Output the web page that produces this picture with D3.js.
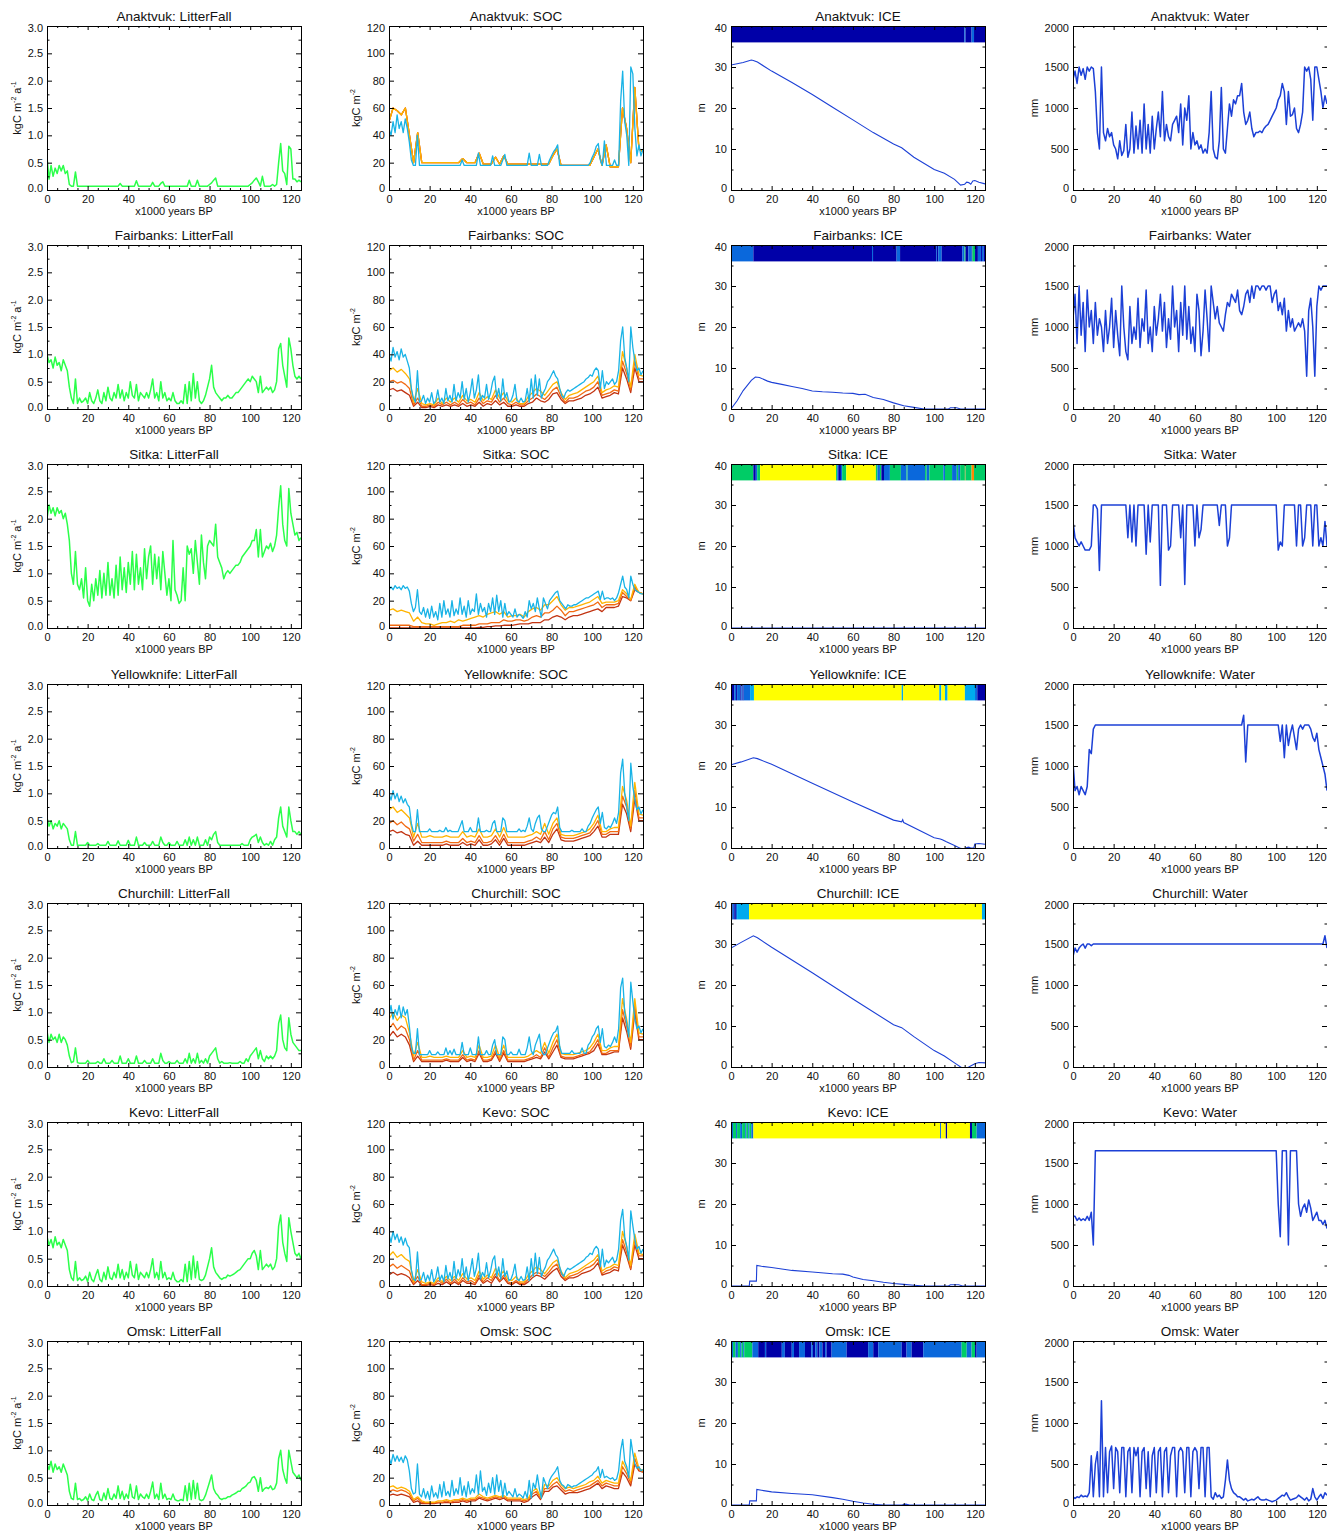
<!DOCTYPE html>
<html>
<head>
<meta charset="utf-8">
<title>Site panels: LitterFall, SOC, ICE, Water</title>
<script src="https://cdn.jsdelivr.net/npm/d3@7"></script>
<style>
  body { margin: 0; background: #fff; }
  svg { display: block; }
</style>
</head>
<body>
<script>
// ---- data (x = 0..125 kyr BP, spread evenly over each array) ----
const stations = ["Anaktvuk", "Fairbanks", "Sitka", "Yellowknife", "Churchill", "Kevo", "Omsk"];
const xTicks = [0, 20, 40, 60, 80, 100, 120];
const litterTicks = [0, 0.5, 1, 1.5, 2, 2.5, 3];
const socTicks = [0, 20, 40, 60, 80, 100, 120];
const iceTicks = [0, 10, 20, 30, 40];
const waterTicks = [0, 500, 1000, 1500, 2000];

// litterfall, kgC m-2 a-1, one value per kyr
const litterAnaktvuk = [
.6,.2,.45,.25,.4,.3,.45,.35,.45,.3,
.35,.1,.07,.07,.33,.07,.07,.07,.07,.07,
.07,.07,.07,.07,.07,.07,.07,.07,.07,.07,
.07,.07,.07,.07,.07,.07,.12,.07,.07,.07,
.07,.07,.07,.07,.17,.07,.07,.07,.07,.07,
.07,.07,.14,.07,.07,.07,.12,.15,.07,.07,
.07,.07,.07,.07,.07,.07,.07,.07,.07,.07,
.18,.07,.07,.07,.18,.07,.07,.07,.07,.07,
.1,.13,.18,.22,.07,.07,.07,.07,.07,.07,
.07,.07,.07,.07,.07,.07,.07,.07,.07,.07,
.1,.13,.18,.22,.15,.07,.25,.07,.07,.07,
.07,.1,.07,.1,.5,.85,.35,.3,.1,.8,
.75,.2,.2,.15,.18,.15];
const litterFairbanks = [
1.0,.85,.9,.75,.95,.8,.85,.7,.9,.8,
.7,.4,.2,.1,.55,.1,.2,.12,.15,.2,
.1,.3,.15,.1,.2,.35,.15,.1,.3,.15,
.4,.2,.15,.3,.2,.45,.2,.35,.15,.3,
.2,.5,.25,.2,.45,.15,.3,.25,.2,.3,
.2,.35,.55,.2,.3,.15,.5,.2,.3,.15,
.2,.15,.3,.15,.1,.1,.15,.1,.45,.1,
.5,.15,.65,.2,.5,.15,.1,.15,.25,.4,
.55,.8,.4,.3,.25,.2,.15,.2,.2,.25,
.2,.2,.25,.3,.3,.35,.4,.45,.5,.55,
.5,.6,.55,.5,.3,.6,.3,.35,.4,.35,
.4,.3,.35,.5,1.1,1.2,.8,.6,.4,1.3,
1.1,.8,.6,.55,.6,.55];
const litterSitka = [
2.0,2.25,2.1,2.2,2.05,2.2,2.1,2.15,2.0,2.1,
1.9,1.6,1.0,.8,1.4,.8,.7,.9,.55,1.1,
.5,.4,.8,.5,.9,.6,1.05,.55,1.0,.6,
1.2,.6,.9,.55,1.15,.6,1.3,.7,1.1,.65,
1.2,.8,1.4,.7,1.35,.8,1.1,.7,1.45,.9,
1.3,1.5,.8,1.35,.9,1.3,.7,1.4,1.0,.6,
.9,.5,1.6,.7,.6,.45,.5,1.1,.5,1.5,
1.35,1.45,1.0,1.6,1.2,.8,1.7,1.2,.9,1.5,
1.6,1.55,1.5,1.9,1.3,1.2,1.1,.9,1.0,1.05,
1.0,1.05,1.1,1.15,1.15,1.2,1.3,1.35,1.4,1.45,
1.5,1.6,1.6,1.8,1.3,1.8,1.3,1.4,1.5,1.45,
1.55,1.4,1.5,1.7,2.2,2.6,1.9,1.6,1.5,2.55,
2.1,1.9,1.7,1.75,1.6,1.65];
const litterYellowknife = [
.55,.4,.5,.35,.45,.4,.5,.35,.45,.4,
.35,.15,.05,.05,.3,.05,.05,.05,.05,.05,
.1,.05,.05,.05,.05,.08,.05,.05,.05,.05,
.12,.05,.05,.05,.05,.13,.05,.05,.05,.05,
.14,.05,.05,.05,.2,.05,.05,.05,.1,.05,
.05,.05,.12,.05,.05,.05,.2,.1,.05,.05,
.1,.05,.05,.05,.12,.05,.05,.05,.15,.05,
.2,.05,.15,.05,.2,.05,.05,.05,.15,.05,
.2,.15,.25,.3,.1,.05,.05,.05,.05,.05,
.05,.05,.05,.05,.05,.05,.08,.05,.05,.05,
.15,.2,.22,.25,.1,.2,.1,.05,.08,.05,
.12,.05,.15,.2,.55,.75,.4,.3,.2,.75,
.5,.3,.3,.25,.3,.25];
const litterChurchill = [
.65,.45,.6,.5,.55,.45,.6,.45,.55,.5,
.4,.2,.08,.1,.35,.08,.07,.07,.07,.07,
.12,.07,.07,.07,.07,.1,.07,.07,.15,.07,
.07,.07,.12,.07,.07,.07,.2,.07,.07,.07,
.15,.07,.07,.07,.2,.07,.07,.07,.12,.07,
.07,.07,.15,.07,.07,.07,.25,.12,.07,.07,
.1,.07,.07,.07,.12,.07,.07,.07,.15,.07,
.25,.07,.15,.07,.25,.07,.12,.07,.15,.07,
.2,.25,.3,.35,.15,.07,.1,.07,.07,.07,
.08,.07,.07,.07,.07,.1,.07,.07,.15,.1,
.2,.25,.3,.35,.15,.3,.15,.1,.2,.15,
.2,.15,.2,.3,.8,.95,.5,.35,.3,.9,
.6,.45,.4,.35,.3,.3];
const litterKevo = [
.9,.75,.85,.7,.9,.75,.8,.7,.85,.75,
.65,.3,.15,.1,.45,.1,.15,.1,.12,.18,
.08,.25,.12,.08,.2,.3,.12,.08,.25,.12,
.35,.15,.12,.25,.15,.4,.15,.3,.12,.25,
.15,.45,.2,.15,.4,.12,.25,.2,.15,.25,
.15,.3,.5,.15,.25,.12,.45,.15,.25,.12,
.15,.12,.25,.12,.08,.08,.12,.08,.4,.08,
.45,.12,.55,.15,.45,.12,.1,.12,.2,.35,
.5,.7,.35,.25,.2,.15,.12,.15,.15,.2,
.18,.2,.22,.25,.28,.3,.35,.4,.45,.5,
.5,.6,.65,.55,.3,.65,.3,.35,.4,.35,
.4,.3,.35,.5,1.1,1.3,.8,.6,.45,1.25,
1.0,.8,.6,.55,.6,.5];
const litterOmsk = [
.75,.65,.8,.6,.75,.65,.7,.6,.75,.65,
.55,.25,.12,.1,.4,.1,.12,.08,.1,.15,
.08,.2,.1,.08,.18,.25,.1,.08,.22,.1,
.3,.12,.1,.2,.12,.35,.12,.25,.1,.2,
.12,.38,.15,.12,.35,.1,.2,.15,.12,.2,
.12,.25,.42,.12,.2,.1,.4,.12,.2,.1,
.12,.1,.2,.1,.08,.08,.1,.08,.35,.08,
.4,.1,.45,.12,.4,.1,.08,.1,.18,.3,
.42,.55,.3,.22,.18,.12,.1,.12,.12,.15,
.15,.18,.2,.22,.25,.25,.3,.32,.35,.4,
.42,.5,.52,.45,.25,.5,.25,.3,.32,.3,
.35,.28,.3,.4,.85,1.0,.65,.5,.4,1.0,
.8,.6,.55,.5,.55,.45];

// SOC, kgC m-2: layer 1 (top, one value per kyr), layers 2-4 (one value per 2 kyr)
const socL1Anaktvuk = [
45,40,50,42,55,45,50,42,52,45,
35,22,18,18,40,18,18,18,18,18,
18,18,18,18,18,18,18,18,18,18,
18,18,18,18,18,18,22,18,18,18,
18,18,18,18,27,18,18,18,18,18,
18,25,18,18,18,18,22,26,18,18,
18,18,18,18,18,18,18,18,18,27,
18,18,18,18,26,18,18,18,18,22,
25,28,30,33,18,18,18,18,18,18,
18,18,18,18,18,18,18,18,18,20,
24,27,32,34,22,18,36,18,18,18,
18,22,18,18,65,87,50,40,18,90,
85,45,25,33,25,30];
const socL2Anaktvuk = [
50,60,58,55,60,40,20,42,20,20,
20,20,20,20,20,20,20,20,23,20,
20,20,27,19,19,19,24,19,25,19,
19,19,19,19,19,19,19,19,19,19,
25,30,18,18,18,18,18,18,18,18,
24,30,18,33,17,17,17,60,45,20,
75,30,28];
const socL3Anaktvuk = [
50,60,58,55,60,40,20,42,20,20,
20,20,20,20,20,20,20,20,23,20,
20,20,27,19,19,19,24,19,25,19,
19,19,19,19,19,19,19,19,19,19,
25,30,18,18,18,18,18,18,18,18,
24,30,18,33,17,17,17,60,45,20,
75,30,28];
const socL4Anaktvuk = [
50,60,58,55,60,40,20,42,20,20,
20,20,20,20,20,20,20,20,23,20,
20,20,27,19,19,19,24,19,25,19,
19,19,19,19,19,19,19,19,19,19,
25,30,18,18,18,18,18,18,18,18,
24,30,18,33,17,17,17,60,45,20,
75,30,28];

const socL1Fairbanks = [
40,35,45,38,42,36,44,38,40,35,
30,15,8,5,28,5,6,10,4,8,
5,12,4,6,14,5,8,4,15,6,
10,5,18,6,12,8,20,7,15,5,
12,22,8,14,25,6,10,8,18,7,
12,20,24,8,15,6,22,8,12,5,
6,10,18,6,5,8,5,6,15,5,
22,8,25,10,22,8,12,15,20,22,
25,28,24,22,15,10,8,12,14,13,
14,15,16,17,18,19,20,22,23,25,
24,28,30,28,15,28,15,20,18,20,
22,18,20,28,50,60,38,30,20,60,
45,35,28,30,25,28];
const socL2Fairbanks = [
28,30,27,29,26,22,5,15,4,3,
4,3,8,4,8,5,8,5,10,6,
7,5,12,6,9,7,14,8,12,6,
5,8,4,4,9,12,15,13,10,14,
18,20,12,7,10,11,12,14,16,18,
20,24,12,14,15,17,16,42,30,16,
40,25,24];
const socL3Fairbanks = [
20,21,19,20,18,15,3,8,2,2,
3,2,5,3,5,3,5,3,7,4,
5,3,8,4,6,5,10,5,8,4,
3,5,3,3,6,8,11,9,7,10,
14,16,9,5,8,8,9,11,13,14,
16,20,10,11,12,14,13,35,26,14,
35,22,22];
const socL4Fairbanks = [
14,15,13,14,12,10,2,5,1,1,
2,1,3,2,3,2,3,2,4,2,
3,2,5,2,4,3,6,3,5,2,
2,3,2,2,4,5,8,6,5,7,
11,12,7,4,6,6,7,8,10,11,
13,16,8,9,10,12,11,30,22,12,
30,20,20];

const socL1Sitka = [
28,30,28,31,29,30,28,31,29,30,
27,18,12,15,28,12,10,15,8,14,
7,16,8,12,6,18,8,20,10,14,
8,20,9,14,10,22,10,16,8,20,
10,14,12,25,10,18,12,15,8,18,
12,22,10,24,12,20,8,18,9,12,
10,8,14,8,10,9,7,12,8,20,
14,18,12,22,14,8,22,18,14,20,
22,24,26,27,20,18,16,14,17,16,
16,17,17,18,19,20,21,22,22,23,
24,25,26,27,21,27,21,22,22,21,
22,20,22,26,32,38,30,28,22,38,
32,28,27,26,25,25];
const socL2Sitka = [
13,14,12,13,12,11,5,8,4,3,
3,2,3,4,4,5,4,6,5,6,
7,8,9,8,10,11,12,10,12,8,
9,9,10,8,12,14,15,13,17,17,
20,23,17,13,15,15,16,17,18,19,
21,23,18,19,19,19,20,28,25,21,
32,26,25];
const socL3Sitka = [
2,2,2,2,2,2,1,1,1,1,
1,1,1,1,1,1,1,1,2,2,
2,2,3,3,3,4,4,4,6,5,
5,6,6,5,6,8,9,8,11,11,
13,16,13,9,12,12,13,14,15,16,
17,19,15,17,17,17,18,26,23,20,
30,26,25];
const socL4Sitka = [
0,0,0,0,0,0,0,0,0,0,
0,0,0,0,0,0,0,0,0,0,
0,0,.5,.5,1,1,1.5,1.5,2,2,
2,2.5,3,3,3,4,4,4,6,6,
8,9,8,6,8,9,9,10,11,12,
13,14,12,15,15,15,16,23,22,20,
28,26,25];

const socL1Yellowknife = [
40,35,42,36,40,34,38,33,36,32,
30,18,12,12,28,12,12,12,12,12,
14,12,12,12,12,13,12,12,15,12,
13,12,12,12,12,16,20,12,12,12,
15,12,12,12,22,12,12,12,13,12,
12,18,20,12,12,12,22,20,12,12,
12,12,12,12,14,12,13,12,16,22,
14,12,18,22,24,14,12,12,16,20,
24,26,25,30,15,12,12,12,12,12,
13,12,12,12,12,14,12,12,16,18,
22,25,28,30,18,26,15,14,16,15,
18,22,18,26,55,65,40,30,20,62,
45,35,28,30,25,28];
const socL2Yellowknife = [
28,30,26,28,25,22,8,18,8,8,
9,8,8,8,9,8,8,8,12,8,
9,8,14,8,8,9,14,8,15,8,
8,8,8,8,9,10,12,10,18,10,
18,22,10,9,9,9,10,11,12,14,
18,24,12,12,14,15,15,45,35,16,
48,25,24];
const socL3Yellowknife = [
18,20,17,19,16,14,5,10,4,4,
4,4,4,4,5,4,4,4,7,4,
5,4,9,4,4,5,9,4,10,4,
4,4,4,4,5,6,8,6,12,6,
14,18,8,7,7,7,8,9,10,11,
15,20,10,10,12,12,12,38,30,14,
42,22,22];
const socL4Yellowknife = [
12,13,11,12,10,9,2,5,2,2,
2,2,2,2,3,2,2,2,4,2,
3,2,6,2,2,3,6,2,7,2,
2,2,2,2,3,4,5,4,8,4,
10,14,6,5,5,5,6,7,8,9,
12,16,8,8,10,10,10,32,25,12,
36,20,20];

const socL1Churchill = [
38,45,35,42,38,45,36,44,38,42,
30,15,10,10,28,9,9,9,9,9,
12,9,9,9,11,9,9,9,14,9,
12,9,13,9,9,9,18,9,9,9,
14,9,9,9,22,9,9,9,12,9,
9,16,20,9,9,9,22,20,9,9,
11,9,9,9,13,9,9,9,14,22,
12,9,16,20,24,12,9,9,14,18,
22,25,26,30,15,10,10,10,10,10,
12,10,10,10,10,14,10,10,16,18,
22,24,28,30,18,28,15,14,16,15,
18,22,18,28,58,65,40,32,22,62,
48,35,28,30,25,28];
const socL2Churchill = [
35,40,34,38,36,25,8,18,7,7,
8,7,7,7,8,7,7,7,12,7,
8,7,16,7,7,8,16,7,16,7,
7,7,7,7,8,10,12,10,18,10,
18,24,10,9,9,9,10,11,12,14,
18,24,12,12,14,15,15,50,35,18,
50,25,24];
const socL3Churchill = [
28,32,27,30,28,20,5,12,5,5,
5,5,5,5,6,5,5,5,9,5,
6,5,12,5,5,6,12,5,12,5,
5,5,5,5,6,7,9,7,14,7,
14,20,8,7,7,7,8,9,10,11,
15,20,10,10,12,12,12,42,30,15,
45,22,22];
const socL4Churchill = [
22,26,22,24,22,16,4,8,4,4,
4,4,4,4,5,4,4,4,7,4,
5,4,10,4,4,5,10,4,10,4,
4,4,4,4,5,6,7,6,11,6,
11,16,7,6,6,6,7,8,9,10,
12,17,9,9,10,11,11,36,26,13,
40,20,20];

const socL1Kevo = [
38,32,40,34,38,32,36,30,35,30,
28,12,5,4,25,4,5,10,3,8,
4,12,3,6,14,4,8,3,15,5,
10,4,18,5,12,7,20,6,14,4,
11,20,7,13,24,5,10,7,17,6,
11,19,22,7,14,5,20,7,11,4,
5,9,16,5,4,7,4,5,14,4,
20,7,24,9,21,7,11,14,19,21,
24,27,23,21,14,9,7,11,13,12,
13,14,15,16,17,18,19,21,22,24,
23,27,29,27,14,27,14,19,17,19,
21,17,19,27,48,56,36,29,19,55,
44,34,27,29,24,27];
const socL2Kevo = [
22,25,21,23,20,18,3,12,3,2,
3,2,6,3,7,4,7,4,9,5,
6,4,11,5,8,6,13,7,11,5,
4,7,3,3,8,11,14,12,9,13,
17,19,11,6,9,10,11,13,15,17,
19,23,11,13,14,16,15,40,29,15,
38,24,23];
const socL3Kevo = [
14,16,13,15,13,11,2,7,1,1,
2,1,4,2,5,2,5,2,6,3,
4,2,8,3,6,4,9,4,8,3,
2,4,2,2,5,8,10,9,7,10,
14,16,9,5,7,8,9,11,13,14,
16,20,9,11,12,14,13,34,25,13,
34,22,22];
const socL4Kevo = [
8,10,8,9,8,6,1,4,.5,.5,
1,.5,2,1,3,1,3,1,4,2,
2,1,6,2,4,2,7,3,6,2,
1,3,1,1,3,6,8,7,5,8,
11,13,7,4,6,6,7,9,10,11,
13,17,8,9,10,12,11,30,22,12,
30,20,20];

const socL1Omsk = [
35,30,37,32,36,32,35,31,36,33,
25,12,8,9,30,8,6,12,5,10,
4,14,6,9,5,15,6,17,7,10,
6,18,7,12,8,20,7,14,6,17,
8,12,9,22,8,25,10,13,7,16,
9,20,8,22,10,18,6,16,7,10,
8,6,12,6,8,7,5,10,5,18,
5,16,12,22,12,5,20,16,12,18,
21,23,25,28,18,15,14,12,15,14,
13,14,14,15,16,17,18,19,20,21,
22,24,25,28,20,26,20,21,20,19,
20,18,19,25,40,48,32,28,20,48,
38,30,27,28,25,26];
const socL2Omsk = [
13,14,12,13,12,10,4,6,3,2,
2,2,3,3,4,3,4,4,5,4,
5,5,8,6,5,6,7,6,7,5,
5,5,5,4,5,10,12,6,15,14,
18,20,15,12,13,12,13,14,15,17,
18,21,16,18,17,16,16,32,26,18,
38,27,25];
const socL3Omsk = [
10,11,10,11,10,8,3,5,2,1.5,
1.5,1.5,2,2,3,2,3,3,4,3,
4,4,6,5,4,5,6,5,6,4,
4,4,4,3,4,8,10,5,12,12,
15,17,13,10,11,10,11,12,13,14,
16,18,14,16,15,14,14,28,23,16,
34,26,24];
const socL4Omsk = [
7,8,7,8,7,6,2,3,1,1,
1,1,1.5,1.5,2,1.5,2,2,3,2,
3,3,5,4,3,4,5,4,5,3,
3,3,3,2,3,6,8,4,10,10,
13,14,11,8,9,9,9,10,11,12,
14,16,12,14,13,12,12,24,20,14,
30,25,24];

// ICE: depth line [kyr, m] and the coloured state band [from kyr, state]
const iceAnaktvuk = [[0,30.5],[3,30.8],[6,31.1],[10,31.7],[11,31.6],[13,31.2],[20,29.0],[30,26.2],[40,23.3],[50,20.2],[60,17.1],[70,14.0],[80,11.2],[84,10.3],[90,8.0],[100,5.0],[105,4.1],[110,2.6],[113,1.2],[115,1.4],[116,1.9],[117,1.8],[118,1.4],[119,2.2],[120,2.3],[122,1.9],[125,1.5]];
const iceFairbanks = [[0,0],[3,2],[6,4.5],[10,7],[12,7.8],[14,7.7],[18,6.8],[20,6.5],[25,6],[30,5.5],[35,5.0],[40,4.4],[45,4.2],[50,4.1],[55,3.9],[60,3.8],[63,3.5],[66,3.6],[70,2.8],[75,2.3],[80,1.5],[85,0.8],[90,0.4],[95,0],[107,0],[108,0.3],[111,0.3],[113,0],[125,0]];
const iceSitka = [[0,0],[125,0]];
const iceYellowknife = [[0,20.3],[5,21.0],[11,22.0],[13,21.8],[20,20.4],[40,15.8],[60,11.2],[80,6.8],[84,6.4],[84.5,6.9],[85,6.2],[100,2.5],[103,2.2],[104,2.0],[106,1.5],[110,0.6],[113,-0.1],[115,-0.3],[116,0.1],[117,0.2],[118,0],[119.5,0],[120,1.0],[122,1.1],[125,0.9]];
const iceChurchill = [[0,29],[5,30.4],[11,32.0],[13,31.5],[20,29.2],[40,23.0],[60,16.6],[80,10.3],[84,9.6],[90,7.4],[100,4.0],[105,2.7],[110,1.0],[113,0],[115,-0.5],[117,0],[120,0.8],[122,1.1],[125,1.0]];
const iceKevo = [[0,0],[9,0],[9.2,1.2],[12.5,1.2],[12.7,5.0],[15,4.8],[20,4.5],[30,3.8],[40,3.4],[50,3.0],[55,2.9],[58,2.6],[60,2.2],[65,1.6],[70,1.3],[75,0.9],[80,0.6],[85,0.4],[90,0.2],[95,0],[107,0],[108,0.3],[112,0.3],[114,0],[125,0]];
const iceOmsk = [[0,0],[9,0],[9.2,1.0],[12.5,1.0],[12.7,3.8],[15,3.6],[20,3.2],[30,2.8],[40,2.5],[50,1.8],[55,1.4],[60,0.9],[65,0.5],[70,0.2],[75,0],[84,0],[86,0.2],[88,0],[125,0]];

const bandAnaktvuk = [[0,"D"],[114.8,"M"],[115.4,"D"],[118.4,"M"],[119.6,"D"]];
const bandFairbanks = [[0,"M"],[11,"D"],[69.4,"M"],[69.9,"D"],[81.5,"M"],[83.2,"D"],[100.9,"M"],[101.3,"D"],[102,"M"],[103.7,"D"],[113.8,"M"],[114.9,"G"],[115.4,"D"],[116.8,"M"],[118.5,"D"],[118.8,"G"],[120.1,"D"],[121.5,"M"],[123,"D"],[123.5,"M"],[124.4,"D"]];
const bandSitka = [[0,"G"],[11,"D"],[12.2,"M"],[12.9,"G"],[14.3,"Y"],[51.7,"G"],[52.3,"M"],[52.8,"D"],[54.1,"M"],[54.7,"G"],[56.7,"Y"],[71.3,"G"],[72.1,"M"],[73.3,"G"],[74,"D"],[75.3,"M"],[78.2,"G"],[83.6,"M"],[86.4,"G"],[86.9,"M"],[95.5,"G"],[96.3,"M"],[97.6,"G"],[104.5,"M"],[105.3,"G"],[108.8,"M"],[111.1,"G"],[111.8,"M"],[112.8,"G"],[115.1,"O"],[115.4,"G"],[118.4,"O"],[119.6,"G"]];
const bandYellowknife = [[0,"D"],[1.6,"M"],[2.5,"D"],[3,"M"],[4.6,"D"],[5.1,"M"],[5.7,"D"],[6.2,"M"],[9.4,"C"],[11.3,"Y"],[84,"C"],[84.7,"Y"],[102.5,"C"],[103.5,"Y"],[105.3,"C"],[106.6,"Y"],[115.1,"C"],[120.1,"M"],[121.2,"D"]];
const bandChurchill = [[0,"D"],[0.8,"M"],[1.6,"D"],[2.4,"M"],[3,"C"],[8.9,"Y"],[123.5,"C"]];
const bandKevo = [[0,"M"],[1,"G"],[2.5,"M"],[3,"G"],[4.5,"M"],[5.5,"G"],[7,"M"],[7.5,"G"],[8.5,"M"],[9,"G"],[10,"M"],[11,"Y"],[102.9,"M"],[103.4,"Y"],[105.7,"D"],[106.4,"Y"],[117.6,"D"],[118.6,"G"],[120.9,"M"]];
const bandOmsk = [[0,"M"],[1,"G"],[2.2,"M"],[3.4,"G"],[4.5,"M"],[5.2,"G"],[6,"M"],[6.5,"G"],[10.5,"M"],[13.4,"D"],[16.7,"M"],[17.3,"D"],[25,"M"],[26.5,"D"],[29.9,"M"],[31,"D"],[33.5,"M"],[36.4,"D"],[39.5,"M"],[40.3,"D"],[41.5,"M"],[42.5,"D"],[43.5,"M"],[45,"D"],[46.3,"M"],[47,"D"],[49.5,"M"],[56.9,"D"],[67.5,"M"],[70,"D"],[72.5,"M"],[84,"D"],[86.4,"M"],[88.9,"D"],[94.6,"M"],[113.5,"G"],[116,"M"],[118.4,"G"],[120.1,"D"],[120.9,"M"]];

// Water, mm, one value per kyr
const waterAnaktvuk = [
1350,1450,1300,1500,1400,1480,1350,1500,1450,1500,
1480,1200,700,500,1500,700,600,750,650,700,
550,500,380,600,420,480,800,400,500,950,
450,780,500,850,450,1050,500,800,450,900,
500,750,950,650,1200,600,800,650,600,800,
850,900,700,1050,550,1000,850,1150,500,700,
550,600,500,550,450,500,450,700,1200,500,
400,380,600,1250,500,450,750,1050,900,1100,
1050,1150,1150,1300,950,800,850,950,750,650,
700,700,720,700,750,780,800,850,900,950,
1000,1100,1150,1300,1200,800,1200,900,920,1000,
750,700,800,950,1500,1450,1500,1350,850,1500,
1500,1350,1200,1000,1150,1050];
const waterFairbanks = [
1100,1400,800,1500,900,1300,700,1450,1000,1200,
800,1300,900,1100,1000,700,1200,800,1000,1350,
750,1200,900,650,1500,1000,700,600,1250,800,
1000,850,1350,750,1100,950,1450,800,1000,700,
1250,900,1100,1400,950,1300,750,1100,850,1500,
1000,1200,700,1300,900,1500,850,1250,800,1000,
700,1400,1200,650,950,1450,1100,700,1500,1300,
1100,1250,1050,1000,950,1150,1300,1250,1400,1350,
1300,1450,1200,1150,1250,1400,1450,1300,1500,1350,
1500,1500,1450,1500,1500,1450,1500,1500,1300,1400,
1450,1200,1300,1150,1350,950,1200,1000,1100,950,
1000,1050,1000,1100,950,400,1200,1350,1000,400,
1250,1500,1450,1500,1500,1500];
const waterSitka = [
1300,1100,1050,1000,1050,1000,950,950,950,1000,
1500,1500,1450,700,1500,1500,1500,1500,1500,1500,
1500,1500,1500,1500,1500,1500,1500,1100,1500,1050,
1500,1000,1500,1500,1500,1500,900,1500,1050,1500,
1500,1500,1500,520,1500,1500,1500,950,1000,1500,
1500,1500,1500,1100,1500,530,1500,1500,1500,1500,
1000,1500,1100,1200,1500,1500,1500,1500,1500,1500,
1500,1500,1250,1500,1500,1500,1000,1100,1500,1500,
1500,1500,1500,1500,1500,1500,1500,1500,1500,1500,
1500,1500,1500,1500,1500,1500,1500,1500,1500,1500,
1500,950,1050,1000,1500,1500,1500,1500,1500,1500,
1000,1500,1500,1000,1100,1500,1500,1500,1000,1500,
1500,1000,1100,1000,1300,1000];
const waterYellowknife = [
1050,700,750,650,750,700,650,750,1200,1150,
1450,1500,1500,1500,1500,1500,1500,1500,1500,1500,
1500,1500,1500,1500,1500,1500,1500,1500,1500,1500,
1500,1500,1500,1500,1500,1500,1500,1500,1500,1500,
1500,1500,1500,1500,1500,1500,1500,1500,1500,1500,
1500,1500,1500,1500,1500,1500,1500,1500,1500,1500,
1500,1500,1500,1500,1500,1500,1500,1500,1500,1500,
1500,1500,1500,1500,1500,1500,1500,1500,1500,1500,
1500,1500,1500,1500,1620,1050,1500,1500,1500,1500,
1500,1500,1500,1500,1500,1500,1500,1500,1500,1500,
1500,1500,1300,1500,1100,1500,1250,1400,1500,1350,
1200,1450,1500,1450,1500,1500,1500,1450,1350,1300,
1400,1200,1100,1000,900,700];
const waterChurchill = [
1350,1450,1400,1450,1480,1500,1450,1500,1500,1480,
1500,1500,1500,1500,1500,1500,1500,1500,1500,1500,
1500,1500,1500,1500,1500,1500,1500,1500,1500,1500,
1500,1500,1500,1500,1500,1500,1500,1500,1500,1500,
1500,1500,1500,1500,1500,1500,1500,1500,1500,1500,
1500,1500,1500,1500,1500,1500,1500,1500,1500,1500,
1500,1500,1500,1500,1500,1500,1500,1500,1500,1500,
1500,1500,1500,1500,1500,1500,1500,1500,1500,1500,
1500,1500,1500,1500,1500,1500,1500,1500,1500,1500,
1500,1500,1500,1500,1500,1500,1500,1500,1500,1500,
1500,1500,1500,1500,1500,1500,1500,1500,1500,1500,
1500,1500,1500,1500,1500,1500,1500,1500,1500,1500,
1500,1500,1500,1500,1600,1450];
const waterKevo = [
850,850,800,830,800,820,800,850,800,900,
500,1650,1650,1650,1650,1650,1650,1650,1650,1650,
1650,1650,1650,1650,1650,1650,1650,1650,1650,1650,
1650,1650,1650,1650,1650,1650,1650,1650,1650,1650,
1650,1650,1650,1650,1650,1650,1650,1650,1650,1650,
1650,1650,1650,1650,1650,1650,1650,1650,1650,1650,
1650,1650,1650,1650,1650,1650,1650,1650,1650,1650,
1650,1650,1650,1650,1650,1650,1650,1650,1650,1650,
1650,1650,1650,1650,1650,1650,1650,1650,1650,1650,
1650,1650,1650,1650,1650,1650,1650,1650,1650,1650,
1650,1000,600,1650,1650,1650,500,1650,1650,1650,
1650,1000,850,950,1000,900,1050,950,800,850,
900,800,800,750,800,700];
const waterOmsk = [
100,80,100,90,120,100,110,100,150,600,
100,500,650,100,1270,100,700,150,650,720,
200,700,650,150,700,700,100,650,700,150,
700,600,700,100,650,700,200,650,100,600,
700,150,650,700,100,650,700,150,600,700,
700,100,650,700,650,150,700,700,100,650,
700,650,200,700,700,100,700,700,100,70,
150,100,120,80,100,300,550,300,200,150,
130,100,100,80,60,80,50,60,70,60,
80,100,70,60,60,70,60,50,40,50,
60,80,100,120,110,150,100,60,70,80,
90,120,100,80,60,90,50,70,200,100,
60,100,130,80,150,120];

// tables built from the named arrays
const litterBySite = [litterAnaktvuk, litterFairbanks, litterSitka, litterYellowknife, litterChurchill, litterKevo, litterOmsk];
const socBySite = [
  [socL1Anaktvuk, socL2Anaktvuk, socL3Anaktvuk, socL4Anaktvuk],
  [socL1Fairbanks, socL2Fairbanks, socL3Fairbanks, socL4Fairbanks],
  [socL1Sitka, socL2Sitka, socL3Sitka, socL4Sitka],
  [socL1Yellowknife, socL2Yellowknife, socL3Yellowknife, socL4Yellowknife],
  [socL1Churchill, socL2Churchill, socL3Churchill, socL4Churchill],
  [socL1Kevo, socL2Kevo, socL3Kevo, socL4Kevo],
  [socL1Omsk, socL2Omsk, socL3Omsk, socL4Omsk]];
const iceBySite = [iceAnaktvuk, iceFairbanks, iceSitka, iceYellowknife, iceChurchill, iceKevo, iceOmsk];
const bandBySite = [bandAnaktvuk, bandFairbanks, bandSitka, bandYellowknife, bandChurchill, bandKevo, bandOmsk];
const waterBySite = [waterAnaktvuk, waterFairbanks, waterSitka, waterYellowknife, waterChurchill, waterKevo, waterOmsk];

// ---- layout / style ----
const FONT = "'Liberation Sans', Arial, Helvetica, sans-serif";
const W = 254, H = 164;
const colX = [47, 389, 731, 1073];
const rowStep = 219.2;
const socColors = ["#19b3e6", "#ffb400", "#f26a12", "#c23412"];
const bandColors = { D: "#0000a8", M: "#0a68dc", C: "#00aaee", G: "#00cc66", Y: "#ffff00", O: "#ff8800" };
const blue = "#1c40d6";

const svg = d3.select("body").append("svg")
    .attr("width", 1327).attr("height", 1531)
    .attr("font-family", FONT);
svg.append("rect").attr("width", 1327).attr("height", 1531).attr("fill", "#fff");

function seriesLine(x, y) {
  return d3.line()
    .x((d, i, arr) => x(i * 125 / (arr.length - 1)))
    .y(d => y(d));
}

function drawPanel(row, col, cfg) {
  const left = colX[col], top = Math.round(26 + row * rowStep);
  const g = svg.append("g").attr("transform", "translate(" + left + "," + top + ")");
  const x = d3.scaleLinear().domain([0, 125]).range([0, W]);
  const y = d3.scaleLinear().domain(cfg.domain).range([H, 0]);

  const id = "clip" + row + "_" + col;
  g.append("clipPath").attr("id", id)
    .append("rect").attr("width", W + 1).attr("height", H + 1);
  const plot = g.append("g").attr("clip-path", "url(#" + id + ")");
  cfg.draw(plot, x, y);

  g.append("rect")
    .attr("x", 0.5).attr("y", 0.5).attr("width", W).attr("height", H)
    .attr("fill", "none").attr("stroke", "#000").attr("stroke-width", 1);

  const minorX = d3.range(5, 125, 5).filter(v => v % 20 !== 0);
  const step = cfg.ticks[1] - cfg.ticks[0];
  const minorY = cfg.ticks.slice(0, -1).map(v => v + step / 2);
  const clean = s => s.call(a => a.select(".domain").remove())
    .attr("font-size", 11).attr("font-family", FONT);

  // bottom: labelled majors and minor ticks
  g.append("g").attr("transform", "translate(0," + H + ")")
    .call(d3.axisBottom(x).tickValues(xTicks).tickSizeInner(-4).tickSizeOuter(0).tickPadding(5))
    .call(clean);
  g.append("g").attr("transform", "translate(0," + H + ")")
    .call(d3.axisBottom(x).tickValues(minorX).tickSize(-2).tickFormat(""))
    .call(clean);
  g.append("g")
    .call(d3.axisTop(x).tickValues(xTicks).tickSize(-4).tickFormat(""))
    .call(clean);
  g.append("g")
    .call(d3.axisTop(x).tickValues(minorX).tickSize(-2).tickFormat(""))
    .call(clean);

  const yAx = g.append("g")
    .call(d3.axisLeft(y).tickValues(cfg.ticks).tickSizeInner(-5).tickSizeOuter(0).tickPadding(4).tickFormat(cfg.format))
    .call(clean);
  yAx.selectAll(".tick text")
    .attr("transform", d => d === cfg.domain[1] ? "translate(0,2)" : d === cfg.domain[0] ? "translate(0,-2)" : null);
  g.append("g")
    .call(d3.axisLeft(y).tickValues(minorY).tickSize(-2.5).tickFormat(""))
    .call(clean);
  g.append("g").attr("transform", "translate(" + W + ",0)")
    .call(d3.axisRight(y).tickValues(cfg.ticks).tickSize(-5).tickFormat(""))
    .call(clean);
  g.append("g").attr("transform", "translate(" + W + ",0)")
    .call(d3.axisRight(y).tickValues(minorY).tickSize(-2.5).tickFormat(""))
    .call(clean);
  g.selectAll(".tick line").attr("stroke", "#000");
  g.selectAll(".tick text").attr("fill", "#111");

  // title and axis labels
  g.append("text")
    .attr("x", W / 2).attr("y", -5)
    .attr("text-anchor", "middle").attr("font-size", 13.5).attr("fill", "#111")
    .text(stations[row] + ": " + cfg.name);
  g.append("text")
    .attr("x", W / 2).attr("y", H + 25)
    .attr("text-anchor", "middle").attr("font-size", 11).attr("fill", "#111")
    .text("x1000 years BP");
  const yl = g.append("text")
    .attr("transform", "translate(" + (-cfg.labelOffset) + "," + (H / 2) + ") rotate(-90)")
    .attr("text-anchor", "middle").attr("font-size", 11).attr("fill", "#111");
  cfg.label.forEach(part => {
    if (part.sup) {
      yl.append("tspan").attr("font-size", 7).attr("dy", -5).text(part.sup);
      yl.append("tspan").attr("dy", 5).text(part.after || "");
    } else {
      yl.append("tspan").text(part.text);
    }
  });
}

stations.forEach((name, r) => {
  drawPanel(r, 0, {
    name: "LitterFall", domain: [0, 3], ticks: litterTicks, format: d3.format(".1f"),
    labelOffset: 26,
    label: [{ text: "kgC m" }, { sup: "-2", after: " a" }, { sup: "-1" }],
    draw: (p, x, y) => {
      p.append("path").datum(litterBySite[r])
        .attr("d", seriesLine(x, y))
        .attr("fill", "none").attr("stroke", "#2bff4a").attr("stroke-width", 1.5)
        .attr("stroke-linejoin", "round");
    }
  });
  drawPanel(r, 1, {
    name: "SOC", domain: [0, 120], ticks: socTicks, format: d3.format("d"),
    labelOffset: 29,
    label: [{ text: "kgC m" }, { sup: "-2" }],
    draw: (p, x, y) => {
      const layers = socBySite[r];
      [3, 2, 1, 0].forEach(k => {
        p.append("path").datum(layers[k])
          .attr("d", seriesLine(x, y))
          .attr("fill", "none").attr("stroke", socColors[k]).attr("stroke-width", 1.3)
          .attr("stroke-linejoin", "round");
      });
    }
  });
  drawPanel(r, 2, {
    name: "ICE", domain: [0, 40], ticks: iceTicks, format: d3.format("d"),
    labelOffset: 26,
    label: [{ text: "m" }],
    draw: (p, x, y) => {
      const band = bandBySite[r];
      p.selectAll("rect.band").data(band).join("rect")
        .attr("class", "band")
        .attr("x", d => x(d[0]))
        .attr("width", (d, i) => x(i + 1 < band.length ? band[i + 1][0] : 125) - x(d[0]))
        .attr("y", y(40)).attr("height", y(36) - y(40))
        .attr("fill", d => bandColors[d[1]]);
      p.append("path").datum(iceBySite[r])
        .attr("d", d3.line().x(d => x(d[0])).y(d => y(d[1])))
        .attr("fill", "none").attr("stroke", blue).attr("stroke-width", 1.1);
    }
  });
  drawPanel(r, 3, {
    name: "Water", domain: [0, 2000], ticks: waterTicks, format: d3.format("d"),
    labelOffset: 35,
    label: [{ text: "mm" }],
    draw: (p, x, y) => {
      p.append("path").datum(waterBySite[r])
        .attr("d", seriesLine(x, y))
        .attr("fill", "none").attr("stroke", blue).attr("stroke-width", 1.5)
        .attr("stroke-linejoin", "round");
    }
  });
});
</script>
</body>
</html>
